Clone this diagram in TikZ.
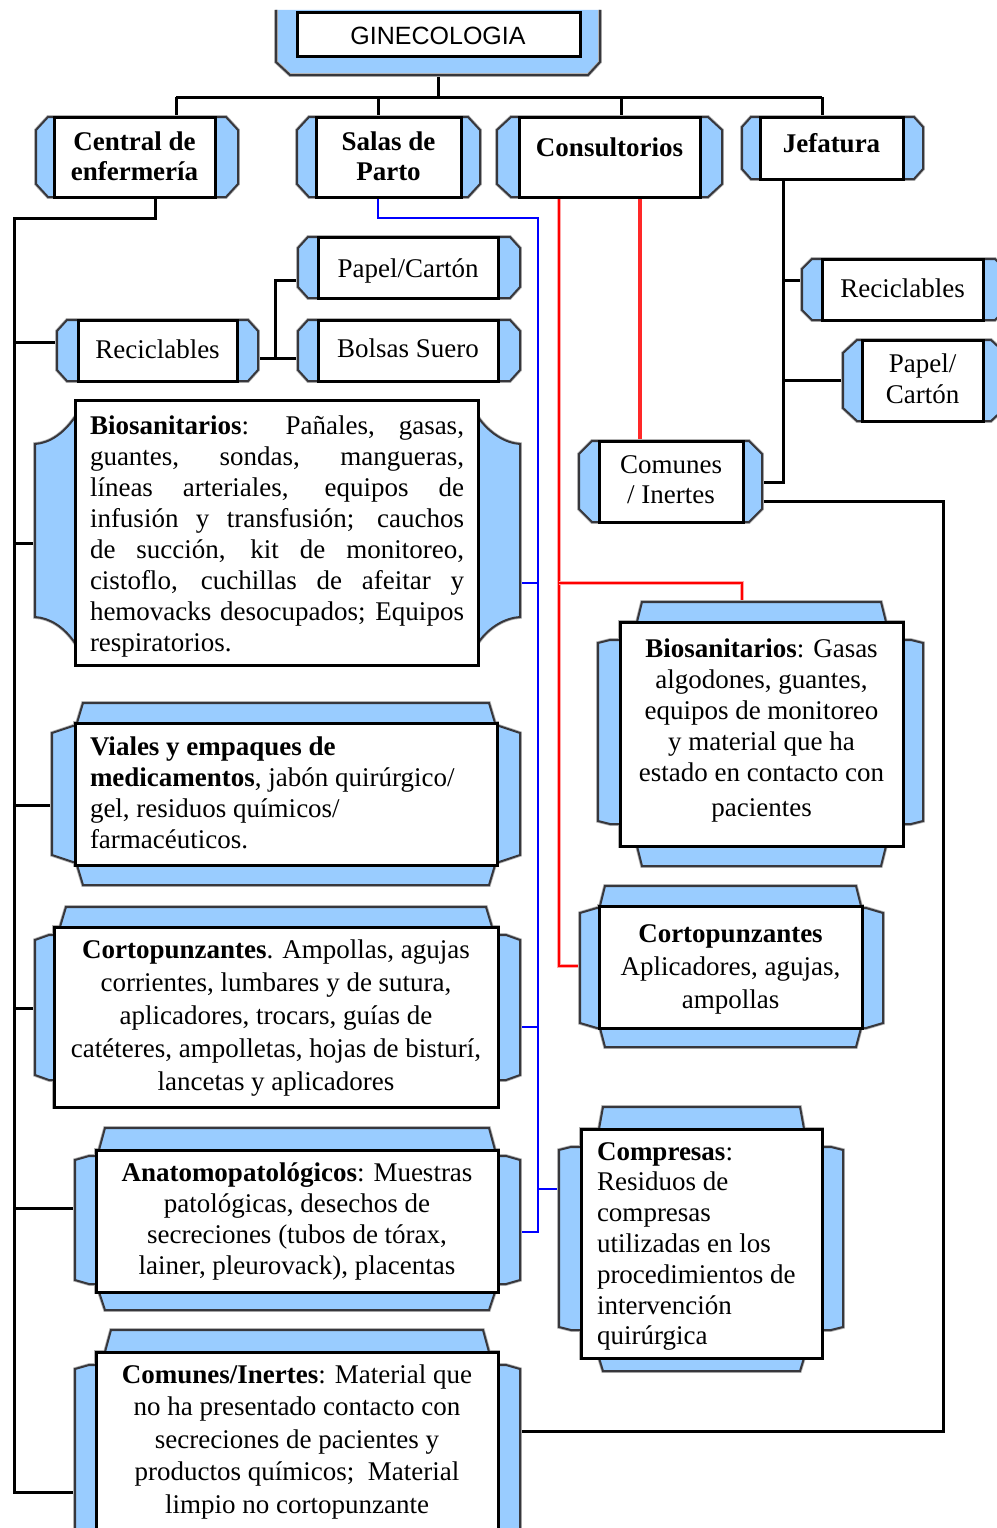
\documentclass[tikz,border=0pt]{standalone}
\usepackage{fontspec}
\setmainfont{Liberation Serif}
\newfontfamily\titlefont{Liberation Sans}
\usetikzlibrary{calc}

\pgfdeclarelayer{bg}
\pgfdeclarelayer{lines}
\pgfdeclarelayer{frames}
\pgfsetlayers{bg,lines,frames,main}

\definecolor{frblue}{RGB}{153,204,255}
\definecolor{frline}{RGB}{55,55,60}
\definecolor{lnred}{RGB}{255,0,0}
\definecolor{lnredb}{RGB}{255,40,40}
\definecolor{lnblue}{RGB}{0,0,255}

% fixed line strut: 21pt above, 8pt below the baseline
\newcommand\lnstrut{\rule[-8pt]{0pt}{29pt}}

\tikzset{
  wbox/.style={draw=black, line width=3pt, fill=white, inner sep=0pt, outer sep=0pt},
  frm/.style={fill=frblue, draw=frline, line width=2pt, preaction={draw=black!30, line width=3.6pt}},
  conn/.style={draw=black, line width=3pt},
  bconn/.style={draw=lnblue, line width=2.5pt},
  rconn/.style={draw=lnred, line width=2.5pt, preaction={draw=lnred!35, line width=4.5pt}},
  rthick/.style={draw=lnredb, line width=4.5pt},
  txt/.style={inner sep=0pt, outer sep=0pt, font=\fontsize{27}{31}\selectfont},
}

% geometry of a framed box: white rectangle L,T,R,B plus blue bands
\pgfkeys{
  /frm/.is family, /frm,
  L/.store in=\fL, T/.store in=\fT, R/.store in=\fR, B/.store in=\fB,
  a/.store in=\fa, ca/.store in=\fca, ft/.store in=\fft, fb/.store in=\ffb,
  el/.store in=\fel, er/.store in=\fer, bt/.store in=\fbt, bb/.store in=\fbb,
  c/.store in=\fc, cv/.store in=\fcv,
  reset/.style={a=0, ca=0, ft=0, fb=0, el=20, er=20, bt=0, bb=0, c=12, cv=12},
}

\newcommand\plaque[2]{%
  \pgfkeys{/frm, reset, #2}%
  \node[wbox, anchor=north west, minimum width=\fR-\fL, minimum height=\fB-\fT] (#1) at (\fL,\fT) {};
  \begin{pgfonlayer}{frames}
    \draw[frm] (\fL+\fa,\fT-\fft) -- (\fR-\fa,\fT-\fft) -- (\fR-\fa+\fca,\fT) -- (\fR,\fT)
      -- (\fR,\fT+\fbt) -- (\fR+\fer-\fc,\fT+\fbt) -- (\fR+\fer,\fT+\fbt+\fcv)
      -- (\fR+\fer,\fB-\fbb-\fcv) -- (\fR+\fer-\fc,\fB-\fbb) -- (\fR,\fB-\fbb) -- (\fR,\fB)
      -- (\fR-\fa+\fca,\fB) -- (\fR-\fa,\fB+\ffb) -- (\fL+\fa,\fB+\ffb) -- (\fL+\fa-\fca,\fB)
      -- (\fL,\fB) -- (\fL,\fB-\fbb) -- (\fL-\fel+\fc,\fB-\fbb) -- (\fL-\fel,\fB-\fbb-\fcv)
      -- (\fL-\fel,\fT+\fbt+\fcv) -- (\fL-\fel+\fc,\fT+\fbt) -- (\fL,\fT+\fbt) -- (\fL,\fT)
      -- (\fL+\fa-\fca,\fT) -- cycle;
  \end{pgfonlayer}}

\begin{document}
\begin{tikzpicture}[x=1pt, y=-1pt]
\useasboundingbox (0,0) rectangle (996,1528);
\begin{pgfonlayer}{bg}
  \fill[white] (0,0) rectangle (996,1528);
\end{pgfonlayer}

% ---------- title box ----------
\node[wbox, anchor=north west, minimum width=283, minimum height=44] (gin) at (297,13) {};
\begin{pgfonlayer}{frames}
  \fill[frblue] (276,10) -- (600,10) -- (600,62) -- (588,75) -- (290,75) -- (276,62) -- cycle;
  \draw[frline, line width=2pt, preaction={draw=black!30, line width=3.6pt}]
    (276,10) -- (276,62) -- (290,75) -- (588,75) -- (600,62) -- (600,10);
\end{pgfonlayer}
\node[inner sep=0pt, anchor=base, font=\titlefont\fontsize{25}{30}\selectfont] (gin-t) at (438,45) {GINECOLOGIA};

% ---------- boxes ----------
\plaque{central}{L=54,T=117,R=215,B=197,el=18,er=23,c=12,cv=13}
\plaque{salas}{L=316,T=117,R=461,B=197,el=19,er=19,c=12,cv=13}
\plaque{consult}{L=519,T=117,R=700,B=197,el=22,er=22,c=14,cv=13}
\plaque{jefa}{L=760,T=117,R=903,B=179,el=18,er=20,c=9,cv=10}

\plaque{recL}{L=78,T=320,R=237,B=381,el=21,er=21,c=10,cv=11}
\plaque{papL}{L=318,T=237,R=498,B=298,el=20,er=22,c=10,cv=11}
\plaque{bolsas}{L=318,T=320,R=498,B=381,el=20,er=22,c=10,cv=11}

% box with curved side wings
\node[wbox, anchor=north west, minimum width=403, minimum height=265] (bioL) at (75,400) {};
\begin{pgfonlayer}{frames}
  \draw[frm] (75,417) .. controls (64,433) and (50,443) .. (35,444) -- (35,617)
    .. controls (50,618) and (64,627) .. (75,643) -- (478,643)
    .. controls (489,627) and (505,618) .. (520,617) -- (520,444)
    .. controls (505,443) and (489,433) .. (478,417) -- cycle;
\end{pgfonlayer}

\plaque{viales}{L=75,T=723,R=497,B=865,a=8,ca=6,ft=20,fb=20,el=23,er=23,bt=3,bb=3,c=21,cv=7}
\plaque{cortoL}{L=54,T=927,R=498,B=1107,a=12,ca=6,ft=20,el=19,er=22,bt=8,bb=27,c=14,cv=5}
\plaque{anat}{L=96,T=1150,R=498,B=1292,a=9,ca=6,ft=22,fb=18,el=21,er=22,bt=6,bb=8,c=14,cv=4}
\plaque{comL}{L=96,T=1352,R=498,B=1560,a=15,ca=6,ft=22,el=21,er=22,bt=13,bb=0,c=14,cv=4}

\plaque{comR}{L=599,T=441,R=743,B=522,el=20,er=19,c=13,cv=13}
\plaque{recR}{L=822,T=259,R=983,B=320,el=20,er=22,c=10,cv=10}
\plaque{papR}{L=862,T=340,R=983,B=421,el=19,er=22,c=14,cv=13}
\plaque{bioR}{L=620,T=622,R=903,B=846,a=22,ca=5,ft=20,fb=20,el=22,er=20,bt=18,bb=22,c=12,cv=3}
\plaque{cortoR}{L=599,T=906,R=862,B=1028,a=6,ca=5,ft=20,fb=19,el=19,er=21,bt=2,bb=0,c=17,cv=5}
\plaque{compr}{L=581,T=1129,R=822,B=1358,a=22,ca=4,ft=22,fb=13,el=22,er=21,bt=18,bb=28,c=12,cv=3}

% ---------- texts ----------
\node[txt, align=center, anchor=north, font=\fontsize{27}{30}\selectfont\bfseries] (central-t) at (134.5,129)
  {\lnstrut Central de\\\lnstrut enfermería};
\node[txt, align=center, anchor=north, font=\fontsize{27}{30}\selectfont\bfseries] (salas-t) at (388.5,129)
  {\lnstrut Salas de\\\lnstrut Parto};
\node[txt, align=center, anchor=north, font=\fontsize{27}{31}\selectfont\bfseries] (consult-t) at (609.5,135)
  {\lnstrut Consultorios};
\node[txt, align=center, anchor=north, font=\fontsize{27}{31}\selectfont\bfseries] (jefa-t) at (831.5,131)
  {\lnstrut Jefatura};

\node[txt, align=center, anchor=north] (recL-t) at (157.5,337) {\lnstrut Reciclables};
\node[txt, align=center, anchor=north] (papL-t) at (408,256) {\lnstrut Papel/Cartón};
\node[txt, align=center, anchor=north] (bolsas-t) at (408,336) {\lnstrut Bolsas Suero};

\node[txt, align=left, anchor=north west] (bioL-t) at (90,413) {%
  \lnstrut\makebox[374pt][s]{\textbf{Biosanitarios}: Pañales, gasas,}\\
  \lnstrut\makebox[374pt][s]{guantes, sondas, mangueras,}\\
  \lnstrut\makebox[374pt][s]{líneas arteriales, equipos de}\\
  \lnstrut\makebox[374pt][s]{infusión y transfusión; cauchos}\\
  \lnstrut\makebox[374pt][s]{de succión, kit de monitoreo,}\\
  \lnstrut\makebox[374pt][s]{cistoflo, cuchillas de afeitar y}\\
  \lnstrut\makebox[374pt][s]{hemovacks desocupados; Equipos}\\
  \lnstrut respiratorios.};

\node[txt, align=left, anchor=north west] (viales-t) at (90,734) {%
  \lnstrut\textbf{Viales y empaques de}\\
  \lnstrut\textbf{medicamentos}, jabón quirúrgico/\\
  \lnstrut gel, residuos químicos/\\
  \lnstrut farmacéuticos.};

\node[txt, align=center, anchor=north, font=\fontsize{27}{33}\selectfont] (cortoL-t) at (276,937) {%
  \lnstrut\textbf{Cortopunzantes}. Ampollas, agujas\\
  \lnstrut corrientes, lumbares y de sutura,\\
  \lnstrut aplicadores, trocars, guías de\\
  \lnstrut catéteres, ampolletas, hojas de bisturí,\\
  \lnstrut lancetas y aplicadores};

\node[txt, align=center, anchor=north] (anat-t) at (297,1160) {%
  \lnstrut\textbf{Anatomopatológicos}: Muestras\\
  \lnstrut patológicas, desechos de\\
  \lnstrut secreciones (tubos de tórax,\\
  \lnstrut lainer, pleurovack), placentas};

\node[txt, align=center, anchor=north, font=\fontsize{27}{32.5}\selectfont] (comL-t) at (297,1362) {%
  \lnstrut\textbf{Comunes/Inertes}: Material que\\
  \lnstrut no ha presentado contacto con\\
  \lnstrut secreciones de pacientes y\\
  \lnstrut productos químicos;\ \ Material\\
  \lnstrut limpio no cortopunzante};

\node[txt, align=center, anchor=north, font=\fontsize{27}{30}\selectfont] (comR-t) at (671,452)
  {\lnstrut Comunes\\\lnstrut / Inertes};
\node[txt, align=center, anchor=north] (recR-t) at (902.5,276) {\lnstrut Reciclables};
\node[txt, align=center, anchor=north] (papR-t) at (922.5,351) {\lnstrut Papel/\\\lnstrut Cartón};

\node[txt, align=center, anchor=north] (bioR-t) at (761.5,636) {%
  \lnstrut\textbf{Biosanitarios}: Gasas\\
  \lnstrut algodones, guantes,\\
  \lnstrut equipos de monitoreo\\
  \lnstrut y material que ha\\
  \lnstrut estado en contacto con\\[4pt]
  \lnstrut pacientes};

\node[txt, align=center, anchor=north, font=\fontsize{27}{33}\selectfont] (cortoR-t) at (730.5,921) {%
  \lnstrut\textbf{Cortopunzantes}\\
  \lnstrut Aplicadores, agujas,\\
  \lnstrut ampollas};

\node[txt, align=left, anchor=north west, font=\fontsize{27}{30.8}\selectfont] (compr-t) at (597,1139) {%
  \lnstrut\textbf{Compresas}:\\
  \lnstrut Residuos de\\
  \lnstrut compresas\\
  \lnstrut utilizadas en los\\
  \lnstrut procedimientos de\\
  \lnstrut intervención\\
  \lnstrut quirúrgica};

% ---------- connectors ----------
\begin{pgfonlayer}{lines}
  \coordinate (busL) at (176,97);
  \coordinate (busR) at (822,97);
  \draw[conn] (gin.south) -- (gin.south |- busL);
  \draw[conn] (busL) -- (busR);
  \draw[conn] (busL) -- (busL |- central.north);
  \draw[conn] (378,97) -- (378,0 |- salas.north);
  \draw[conn] (621,97) -- (621,0 |- consult.north);
  \draw[conn] (busR) -- (busR |- jefa.north);

  % Central de enfermería
  \draw[conn] (155,0 |- central.south) -- (155,218) -- (14,218) -- (14,1492) -- (comL.west |- 0,1492);
  \foreach \y/\n in {342/recL, 543/bioL, 805/viales, 1008/cortoL, 1208/anat}
    \draw[conn] (14,\y) -- (\n.west |- 0,\y);
  \draw[conn] (recL.east |- 0,358) -- (275,358) -- (bolsas.west |- 0,358);
  \draw[conn] (275,358) -- (275,280) -- (papL.west |- 0,280);

  % Jefatura
  \draw[conn] (783,0 |- jefa.south) -- (783,482) -- (comR.east |- 0,482);
  \draw[conn] (783,280) -- (recR.west |- 0,280);
  \draw[conn] (783,380) -- (papR.west |- 0,380);
  \draw[conn] (comR.east |- 0,501) -- (943,501) -- (943,1431) -- (comL.east |- 0,1431);

  % Salas de Parto
  \draw[bconn] (378,0 |- salas.south) -- (378,218) -- (538,218) -- (538,1232) -- (anat.east |- 0,1232);
  \draw[bconn] (538,583) -- (bioL.east |- 0,583);
  \draw[bconn] (538,1027) -- (cortoL.east |- 0,1027);
  \draw[bconn] (538,1189) -- (compr.west |- 0,1189);

  % Consultorios
  \draw[rconn] (559,0 |- consult.south) -- (559,966) -- (cortoR.west |- 0,966);
  \draw[rconn] (559,583) -- (742,583) -- (742,0 |- bioR.north);
  \draw[rthick] (640,0 |- consult.south) -- (640,0 |- comR.north);
\end{pgfonlayer}
\end{tikzpicture}
\end{document}
